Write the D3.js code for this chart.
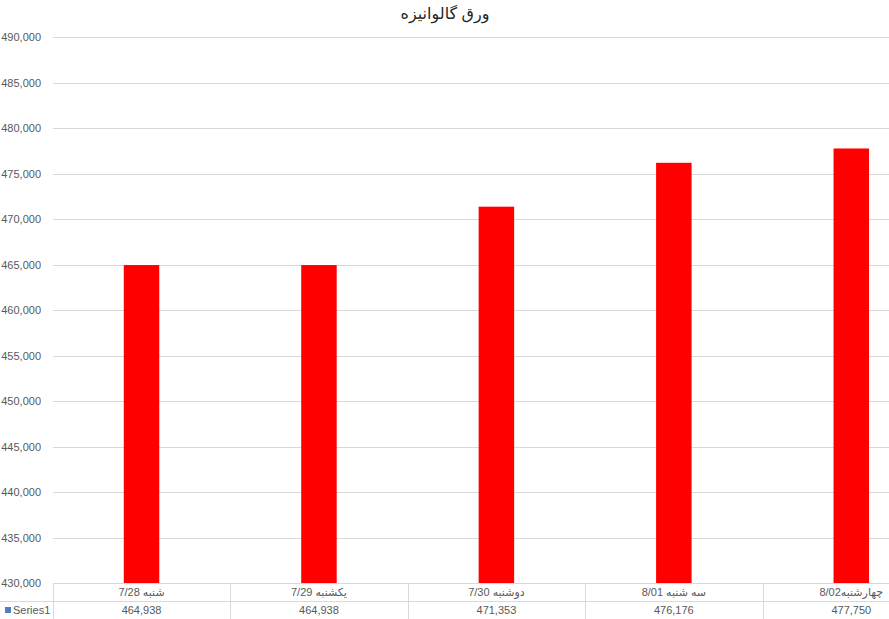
<!DOCTYPE html>
<html><head><meta charset="utf-8">
<script src="https://cdn.jsdelivr.net/npm/d3@7"></script>
<style>
html,body{margin:0;padding:0;background:#fff;}
svg{display:block;}
text{font-family:"Liberation Sans","DejaVu Sans",Arial,sans-serif;}
</style></head>
<body>
<svg id="chart" width="889" height="619"></svg>
<script>
const title = "ورق گالوانیزه";
const categories = ["شنبه 7/28", "یکشنبه 7/29", "دوشنبه 7/30", "سه شنبه 8/01", "چهارشنبه8/02"];
const values = [464938, 464938, 471353, 476176, 477750];
const seriesName = "Series1";
const yTicks = [430000, 435000, 440000, 445000, 450000, 455000, 460000, 465000, 470000, 475000, 480000, 485000, 490000];

(function () {
const svg = d3.select("#chart");
const W = 889, H = 619;
const pLeft = 52.8, pRight = 940;
const pTop = 37, pBottom = 583;
const rowH = 18;

const y = d3.scaleLinear().domain([430000, 490000]).range([pBottom, pTop]);
const xCol = d3.scaleBand().domain(categories).range([pLeft, pRight]).padding(0);
const xBar = d3.scaleBand().domain(categories).range([pLeft, pRight]).paddingInner(0.8).paddingOuter(0.4);
const fmt = d3.format(",");

// gridlines
svg.append("g").selectAll("line").data(yTicks.filter(t => t > 430000)).join("line")
  .attr("x1", pLeft).attr("x2", W)
  .attr("y1", d => Math.round(y(d)) + 0.5).attr("y2", d => Math.round(y(d)) + 0.5)
  .attr("stroke", "#d9d9d9").attr("stroke-width", 1);

// y axis labels
const yAxis = d3.axisLeft(y).tickValues(yTicks).tickFormat(fmt).tickSize(0).tickPadding(0);
const ga = svg.append("g").attr("transform", `translate(41,0)`).call(yAxis);
ga.select(".domain").remove();
ga.selectAll("text").attr("fill", "#595959").style("font-size", "11px")
  .style("font-family", '"Liberation Sans","DejaVu Sans",Arial,sans-serif');

// bars
svg.append("g").selectAll("rect").data(values).join("rect")
  .attr("x", (d, i) => xBar(categories[i]))
  .attr("width", xBar.bandwidth())
  .attr("y", d => y(d))
  .attr("height", d => y(430000) - y(d))
  .attr("fill", "#ff0000");

// data table
const tbl = svg.append("g");
tbl.append("line").attr("x1", pLeft).attr("x2", W).attr("y1", pBottom + 0.5).attr("y2", pBottom + 0.5)
  .attr("stroke", "#d9d9d9");
tbl.append("line").attr("x1", 0).attr("x2", W).attr("y1", pBottom + rowH + 0.5).attr("y2", pBottom + rowH + 0.5)
  .attr("stroke", "#d9d9d9");
tbl.selectAll("line.v").data(categories).join("line").attr("class", "v")
  .attr("x1", d => Math.round(xCol(d)) + 0.5).attr("x2", d => Math.round(xCol(d)) + 0.5)
  .attr("y1", pBottom).attr("y2", H)
  .attr("stroke", "#d9d9d9");
tbl.selectAll("text.cat").data(categories).join("text").attr("class", "cat")
  .attr("x", d => xCol(d) + xCol.bandwidth() / 2)
  .attr("y", pBottom + 13)
  .attr("text-anchor", "middle")
  .attr("fill", "#595959").style("font-size", "11px")
  .text(d => d);
tbl.selectAll("text.val").data(values).join("text").attr("class", "val")
  .attr("x", (d, i) => xCol(categories[i]) + xCol.bandwidth() / 2)
  .attr("y", pBottom + rowH + 13)
  .attr("text-anchor", "middle")
  .attr("fill", "#595959").style("font-size", "11px")
  .text(d => fmt(d));
// legend key
tbl.append("rect").attr("x", 5).attr("y", 607).attr("width", 6).attr("height", 6).attr("fill", "#4f81bd");
tbl.append("text").attr("x", 13).attr("y", pBottom + rowH + 13)
  .attr("fill", "#595959").style("font-size", "11px").text(seriesName);

// title
svg.append("text").attr("x", 445).attr("y", 19).attr("text-anchor", "middle")
  .attr("fill", "#262626").style("font-size", "16px").text(title);
})();
</script>
</body></html>
